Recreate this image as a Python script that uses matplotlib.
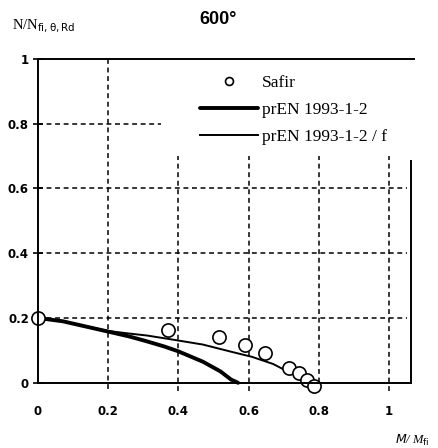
import matplotlib
matplotlib.use("Agg")
import matplotlib.pyplot as plt

# values (600 deg)
safir_m = [0.0, 0.37, 0.515, 0.59, 0.648, 0.715, 0.743, 0.766, 0.786]
safir_n = [0.2, 0.163, 0.142, 0.118, 0.093, 0.047, 0.031, 0.01, -0.01]

en_m = [0.0, 0.07, 0.2, 0.26, 0.31, 0.36, 0.40, 0.47, 0.52, 0.55, 0.57]
en_n = [0.2, 0.19, 0.158, 0.143, 0.128, 0.112, 0.097, 0.065, 0.035, 0.01, 0.0]

enf_m = [0.0, 0.07, 0.2, 0.26, 0.31, 0.38, 0.47, 0.55, 0.61, 0.67, 0.72, 0.78]
enf_n = [0.2, 0.19, 0.16, 0.152, 0.146, 0.134, 0.118, 0.096, 0.08, 0.058, 0.03, 0.0]

xticks = [0, 0.2, 0.4, 0.6, 0.8, 1.0]
xtick_labels = ["0", "0.2", "0.4", "0.6", "0.8", "1"]
yticks = [0, 0.2, 0.4, 0.6, 0.8, 1.0]
ytick_labels = ["0", "0.2", "0.4", "0.6", "0.8", "1"]

W, H = 438, 448
fig = plt.figure(figsize=(W / 100, H / 100), dpi=100)
# x=0 at px 38, 351 px per unit ; y=0 at px 383, 324 px per unit
ax = fig.add_axes([38 / W, (H - 399) / H, 1.1 * 351 / W, 1.1 * 324 / H])
ax.set_xlim(0, 1.1)
ax.set_ylim(-0.05, 1.05)
ax.patch.set_alpha(0)

dash = dict(color="black", lw=1.1, dashes=(3.2, 2.4))
# horizontal grid
for yv in [0.2, 0.4, 0.6]:
    ax.plot([0, 1.05], [yv, yv], **dash)
ax.plot([0, 0.35], [0.8, 0.8], **dash)
# vertical grid
ax.plot([0.2, 0.2], [-0.02, 1.0], **dash)
for xv in [0.4, 0.6, 0.8, 1.0]:
    ax.plot([xv, xv], [-0.025, 0.70], **dash)

# frame
for s in ["left", "bottom", "right", "top"]:
    ax.spines[s].set_linewidth(1.4)
ax.spines["left"].set_position(("data", 0))
ax.spines["left"].set_bounds(0, 1)
ax.spines["bottom"].set_position(("data", 0))
ax.spines["bottom"].set_bounds(0, 1.063)
ax.spines["right"].set_position(("data", 1.063))
ax.spines["right"].set_bounds(0, 0.686)
ax.spines["top"].set_position(("data", 1))
ax.spines["top"].set_bounds(0, 1.07)

ax.plot(en_m, en_n, color="black", lw=2.8, solid_capstyle="round",
        label="prEN 1993-1-2")
ax.plot(enf_m, enf_n, color="black", lw=1.4, label="prEN 1993-1-2 / f")
ax.plot(safir_m, safir_n, "o", ms=9.5, mfc="white", mec="black", mew=1.2,
        label="Safir", clip_on=False)

ax.set_xticks(xticks)
ax.set_xticklabels(xtick_labels)
ax.set_yticks(yticks)
ax.set_yticklabels(ytick_labels)
ax.tick_params(axis="y", direction="inout", length=7, width=1.2, pad=3,
               labelsize=8.5)
ax.tick_params(axis="x", direction="inout", length=0, pad=16, labelsize=8.5)
for lab in ax.get_xticklabels() + ax.get_yticklabels():
    lab.set_fontweight("bold")

h, l = ax.get_legend_handles_labels()
leg = ax.legend([h[2], h[0], h[1]], [l[2], l[0], l[1]],
                loc="upper left", bbox_to_anchor=(0.38, 0.953),
                frameon=False, handlelength=3.3, handletextpad=0.25,
                labelspacing=0.62, markerscale=0.6,
                prop=dict(family="Liberation Serif", size=12.5))

fig.text(218 / W, 1 - 20 / H, "600°", ha="center", va="center",
         fontsize=13, fontweight="bold", family="Liberation Sans")
fig.text(12 / W, 1 - 26 / H, r"N/N$_{\rm fi,\theta,Rd}$", ha="left",
         va="center", fontsize=10.5, family="Liberation Serif")
fig.text(395 / W, 1 - 440 / H, r"$M$/ M$_{\rm fi}$", ha="left",
         va="center", fontsize=9, family="Liberation Serif", style="italic")

fig.savefig("out.png", dpi=100)
